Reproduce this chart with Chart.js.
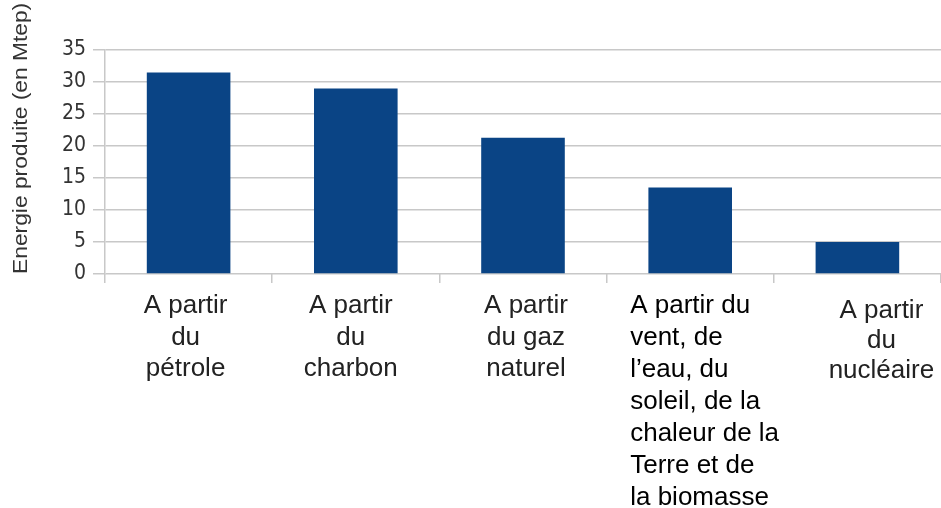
<!DOCTYPE html>
<html>
<head>
<meta charset="utf-8">
<script src="https://cdn.jsdelivr.net/npm/chart.js@4"></script>
<style>
  html, body { margin: 0; padding: 0; background: #fff; }
  #wrap { width: 941px; height: 508px; }
</style>
</head>
<body>
<div id="wrap"><canvas id="chart" width="941" height="508"></canvas></div>
<script>
// data
const categories = [
  ['A partir', 'du', 'pétrole'],
  ['A partir', 'du', 'charbon'],
  ['A partir', 'du gaz', 'naturel'],
  ['A partir du', 'vent, de', 'l\u2019eau, du', 'soleil, de la', 'chaleur de la', 'Terre et de', 'la biomasse'],
  ['A partir', 'du', 'nucléaire'],
];
const energyValues = [31.5, 29.0, 21.3, 13.5, 5.0];
const yTicks = [0, 5, 10, 15, 20, 25, 30, 35];
const yTitle = 'Energie produite (en Mtep)';

const BAR_COLOR = '#0a4485';
const GRID_COLOR = '#c8c8c8';

// per-label placement of the category text (the source labels are not uniform)
const labelStyle = [
  { align: 'center', dx: -3, y0: 313, lh: 31.5, color: '#222' },
  { align: 'center', dx: -5, y0: 313, lh: 31.5, color: '#222' },
  { align: 'center', dx: 3, y0: 313, lh: 31.5, color: '#222' },
  { align: 'left', dx: -60, y0: 313, lh: 32, color: '#000' },
  { align: 'center', dx: 24, y0: 318, lh: 30, color: '#222' },
];

const xLabelsPlugin = {
  id: 'xLabels',
  afterDraw(chart) {
    const ctx = chart.ctx;
    const xs = chart.scales.x;
    ctx.save();
    ctx.font = '26px "Liberation Sans", Arial, sans-serif';
    ctx.textBaseline = 'alphabetic';
    categories.forEach((lines, i) => {
      const st = labelStyle[i];
      const x = xs.getPixelForValue(i) + st.dx;
      ctx.fillStyle = st.color;
      ctx.textAlign = st.align;
      lines.forEach((ln, j) => ctx.fillText(ln, x, st.y0 + j * st.lh));
    });
    ctx.restore();
  },
};

const yTitlePlugin = {
  id: 'yTitle',
  afterDraw(chart) {
    const ctx = chart.ctx;
    ctx.save();
    ctx.translate(21, chart.scales.y.getPixelForValue(0));
    ctx.rotate(-Math.PI / 2);
    ctx.scale(1.14, 1);
    ctx.font = '20px "Liberation Sans", Arial, sans-serif';
    ctx.fillStyle = '#333';
    ctx.textAlign = 'left';
    ctx.textBaseline = 'middle';
    ctx.fillText(yTitle, 0, 0);
    ctx.restore();
  },
};

new Chart(document.getElementById('chart'), {
  type: 'bar',
  data: {
    labels: categories,
    datasets: [{
      data: energyValues,
      backgroundColor: BAR_COLOR,
      borderWidth: 0,
      categoryPercentage: 1,
      barPercentage: 0.5,
    }],
  },
  options: {
    responsive: false,
    animation: false,
    devicePixelRatio: 1,
    layout: { padding: { top: 50, right: 0, left: 0, bottom: 0 } },
    plugins: {
      legend: { display: false },
      tooltip: { enabled: false },
    },
    scales: {
      x: {
        grid: {
          drawOnChartArea: false,
          offset: true,
          tickLength: 9,
          color: GRID_COLOR,
          lineWidth: 1.5,
        },
        border: { display: false },
        ticks: { display: false },
        afterFit: (s) => { s.height = 508 - 274; },
      },
      y: {
        min: 0,
        max: 35,
        afterBuildTicks: (s) => { s.ticks = yTicks.map(v => ({ value: v })); },
        grid: { color: GRID_COLOR, lineWidth: 1.5, tickLength: 12 },
        border: { display: true, color: GRID_COLOR, width: 1.5 },
        ticks: {
          color: '#333',
          padding: 7,
          font: { family: '"Liberation Sans Narrow", "DejaVu Sans Condensed", Arial', size: 21 },
        },
        afterFit: (s) => { s.width = 105; },
      },
    },
  },
  plugins: [xLabelsPlugin, yTitlePlugin],
});
</script>
</body>
</html>
